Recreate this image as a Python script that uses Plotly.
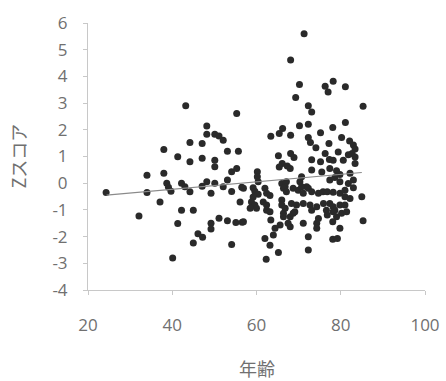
import plotly.graph_objects as go

# Data (age, Z score)
ages = [
    24.3, 32.1, 34.0, 34.0, 37.1, 38.0, 38.0, 38.7, 39.1, 39.7, 40.1, 41.3, 41.3, 42.2, 42.2,
    43.0, 43.2, 44.2, 44.2, 44.2, 45.0, 45.0, 46.1, 47.2, 47.1, 47.1, 47.1, 48.2, 48.2, 48.2,
    49.2, 49.2, 49.2, 50.1, 50.1, 50.1, 50.1, 51.1, 51.1, 52.1, 52.1, 53.1, 53.1, 53.1, 54.1,
    54.1, 54.1, 55.3, 55.3, 55.1, 55.7, 56.1, 56.5, 56.6,
    71.3, 68.1, 70.2, 69.3, 76.3, 78.2, 77.0, 81.1, 72.3, 73.1, 85.3, 63.4, 65.4, 66.2, 68.1,
    70.2, 72.3, 75.2, 78.1, 81.1, 72.3, 72.8, 74.1, 77.2, 80.2, 82.1, 83.0, 83.4, 82.7, 65.2,
    68.1, 68.9, 73.1, 76.3, 77.3, 79.4, 81.8,
    66.1, 67.3, 68.0, 65.4, 73.1, 75.5, 75.2, 78.2, 80.6, 83.4, 83.4, 77.4, 79.0, 79.8, 82.2,
    60.2, 60.2, 60.4, 70.7, 70.3, 71.9, 66.0, 67.1, 66.8, 77.4, 78.6, 79.8, 81.8, 83.0, 56.9,
    59.2, 59.6, 60.4, 62.0, 62.4, 63.2, 59.2, 66.4, 67.1, 68.7, 69.9, 70.7, 71.1, 72.3, 73.1,
    74.7, 75.8, 76.8, 78.2, 79.8, 81.0, 81.0, 85.0, 83.0,
    58.8, 59.6, 58.5, 60.0, 61.6, 62.4, 62.4, 66.0, 66.0, 66.8, 68.3, 69.5, 71.1, 72.7, 73.1,
    74.3, 75.9, 77.4, 78.2, 78.6, 79.8, 81.0, 82.2, 76.6, 66.4, 56.9, 63.2, 63.4, 66.4, 68.0,
    68.7, 69.1, 68.0, 67.5, 71.1, 65.6, 64.4, 64.0, 74.3, 74.7, 74.3, 76.8, 78.2, 79.0, 80.2,
    81.4, 78.1, 79.8, 85.3, 62.0, 63.2, 65.2, 72.3, 72.3, 78.1, 79.2, 62.3,
]
zscores = [
    -0.35, -1.23, 0.30, -0.35, -0.70, 1.26, 0.37, 0.00, -0.15, -0.30, -2.80, 0.99, -1.51, -1.01, 0.00,
    -0.13, 2.90, 1.52, 0.80, -0.32, -1.01, -2.24, -1.89, -2.02, 1.49, 0.93, -0.11, 0.05, 2.14, 1.83,
    -0.38, -1.50, -1.72, 1.83, 0.86, 0.62, 0.00, 1.77, -1.31, 1.61, -0.13, 1.20, 0.12, -1.41, 0.43,
    -0.31, -2.30, 2.61, 0.55, -1.47, 1.20, -0.70, -0.15, -1.46,
    5.60, 4.61, 3.70, 3.21, 3.63, 3.82, 3.42, 3.61, 2.90, 2.67, 2.88, 1.76, 1.86, 2.05, 1.80,
    2.15, 2.21, 1.89, 2.09, 2.27, 1.71, 1.52, 1.33, 1.49, 1.71, 1.58, 1.43, 1.28, 1.11, 1.03,
    1.11, 0.96, 0.88, 1.11, 0.89, 1.17, 1.07,
    0.74, 0.64, 0.55, 0.61, 0.49, 0.42, 0.80, 0.86, 0.86, 0.98, 0.74, 0.55, 0.47, 0.33, 0.37,
    0.43, 0.24, 0.05, 0.24, 0.05, -0.13, -0.01, 0.05, -0.13, 0.12, 0.21, 0.05, -0.01, 0.12, -0.19,
    -0.17, -0.30, -0.41, -0.19, -0.38, -0.46, -0.52, -0.19, -0.32, -0.19, -0.26, -0.13, -0.38, -0.19, -0.32,
    -0.38, -0.32, -0.32, -0.34, -0.38, -0.26, -0.51, -0.51, -0.17,
    -0.70, -0.82, -0.94, -0.94, -0.70, -0.82, -1.01, -0.63, -0.82, -0.94, -0.76, -0.82, -0.76, -0.82, -1.01,
    -0.88, -0.76, -0.76, -0.88, -1.01, -0.82, -0.82, -0.57, -1.01, -1.13, -1.44, -1.07, -1.38, -1.26, -1.26,
    -1.13, -1.07, -1.63, -1.50, -1.50, -1.57, -1.69, -1.94, -1.50, -1.32, -1.69, -1.19, -1.07, -1.26, -1.13,
    -1.07, -1.44, -1.69, -1.41, -2.07, -2.32, -2.60, -2.01, -2.50, -2.10, -2.07, -2.85,
]

# Linear trend line end points as drawn in the picture
trend_x = [24.4, 85.0]
trend_y = [-0.45, 0.40]

x_ticks = [20, 40, 60, 80, 100]
y_ticks = [-4, -3, -2, -1, 0, 1, 2, 3, 4, 5, 6]

x_title = "年齢"
y_title = "Zスコア"

tick_font = dict(family="Open Sans, DejaVu Sans, sans-serif", size=17, color="#707070")
title_font = dict(family="Noto Sans CJK JP, sans-serif", size=18, color="#707070")

fig = go.Figure()
fig.add_trace(go.Scatter(
    x=ages, y=zscores, mode="markers",
    marker=dict(size=7, color="#2a2a2a", line=dict(width=0)),
    showlegend=False, hoverinfo="x+y",
))
fig.add_trace(go.Scatter(
    x=trend_x, y=trend_y, mode="lines",
    line=dict(color="#8a8a8a", width=1.2),
    showlegend=False, hoverinfo="skip",
))

fig.update_layout(
    width=446, height=381,
    margin=dict(l=88, r=21, t=23, b=91),
    paper_bgcolor="white", plot_bgcolor="white",
    xaxis=dict(
        range=[20, 100], tickvals=x_ticks, ticktext=[str(v) for v in x_ticks],
        showgrid=False, zeroline=False, showline=True, linecolor="#c8c8c8", linewidth=1,
        ticks="outside", ticklen=4, tickcolor="#c8c8c8",
        tickfont=tick_font, ticklabelstandoff=16, automargin=False,
    ),
    yaxis=dict(
        range=[-4, 6], tickvals=y_ticks, ticktext=[str(v) for v in y_ticks],
        showgrid=False, zeroline=False, showline=True, linecolor="#c8c8c8", linewidth=1,
        ticks="outside", ticklen=4, tickcolor="#c8c8c8",
        tickfont=tick_font, ticklabelstandoff=12, automargin=False,
    ),
    annotations=[
        dict(text=x_title, xref="paper", yref="paper", x=0.5, y=0,
             xanchor="center", yanchor="middle", yshift=-78,
             showarrow=False, font=title_font),
        dict(text=y_title, xref="paper", yref="paper", x=0, y=0.5,
             xanchor="center", yanchor="middle", xshift=-71, textangle=-90,
             showarrow=False, font=title_font),
    ],
)

# Remove the default page margin so the figure sits exactly in the window.
fig.write_html(
    "out.html",
    config={"displayModeBar": False},
    post_script="document.body.style.margin='0';document.body.style.overflow='hidden';",
)
